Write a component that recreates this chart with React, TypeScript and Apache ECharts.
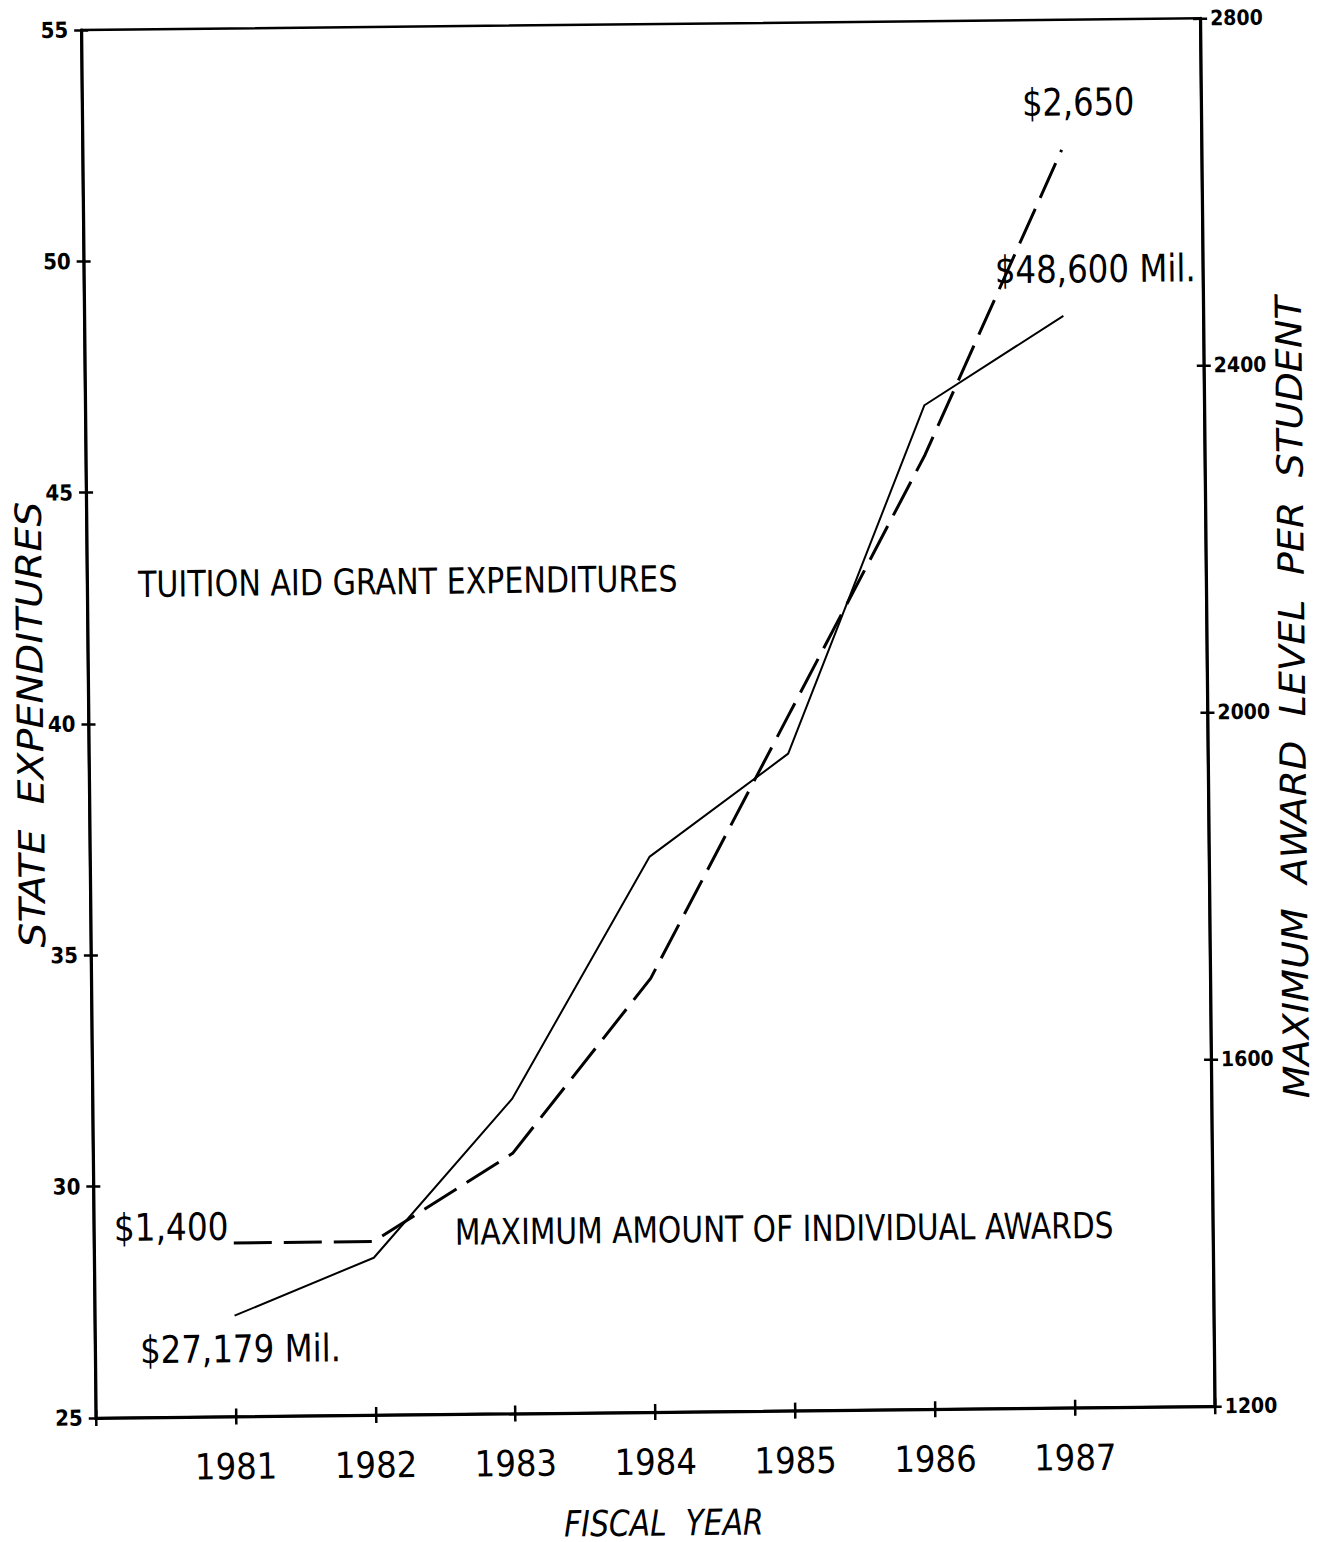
import React, { useEffect, useRef } from "react";
import * as echarts from "echarts";

const years = [1981, 1982, 1983, 1984, 1985, 1986, 1987];
const stateExpenditures = [27.179, 28.4, 31.8, 37.0, 39.2, 46.7, 48.6];
const maxAward = [1400, 1400, 1500, 1700, 2000, 2300, 2650];
const leftTicks = { min: 25, max: 55, interval: 5 };
const rightTicks = { min: 1200, max: 2800, interval: 400 };
const xRange = { min: 1980, max: 1988, interval: 1 };

const FONT = '"Liberation Sans Narrow", "DejaVu Sans Condensed", "Arial Narrow", sans-serif';

export default function App() {
  const ref = useRef<HTMLDivElement>(null);
  useEffect(() => {
    const chart = echarts.init(ref.current!, null, { renderer: "svg" });
    const solid = years.map((y, i) => [y, stateExpenditures[i]]);
    const dashed = years.map((y, i) => [y, maxAward[i]]);
    const xLabel = (v: number) => (v === xRange.min || v === xRange.max ? "" : String(v));
    const baseX = {
      type: "value",
      min: xRange.min,
      max: xRange.max,
      interval: xRange.interval,
      splitLine: { show: false },
    };
    const txt = (text: string, x: number, y: number, size: number, extra: any = {}) => ({
      type: "text",
      x,
      y,
      rotation: extra.rotation || 0,
      scaleX: extra.scaleX || 1,
      style: {
        text,
        fill: "#000",
        font: `${extra.italic ? "italic " : ""}${size}px ${FONT}`,
        align: extra.align || "left",
        verticalAlign: "middle",
      },
    });
    chart.setOption({
      animation: false,
      backgroundColor: "#fff",
      grid: {
        left: 89,
        right: 113,
        top: 24,
        bottom: 130,
        show: true,
        borderColor: "#000",
        borderWidth: 2.5,
      },
      xAxis: [
        {
          ...baseX,
          axisLine: { show: true, lineStyle: { color: "#000", width: 3 } },
          axisTick: { show: true, inside: false, length: 8, lineStyle: { color: "#000", width: 2.5 } },
          axisLabel: {
            show: true,
            margin: 32,
            color: "#000",
            fontSize: 36,
            fontFamily: FONT,
            formatter: xLabel,
          },
        },
        {
          ...baseX,
          position: "bottom",
          axisLine: { show: false },
          axisTick: { show: true, inside: true, length: 8, lineStyle: { color: "#000", width: 2.5 } },
          axisLabel: { show: false },
        },
      ],
      yAxis: [
        {
          type: "value",
          position: "left",
          ...leftTicks,
          splitLine: { show: false },
          axisLine: { show: true, lineStyle: { color: "#000", width: 3 } },
          axisTick: { show: true, inside: false, length: 7, lineStyle: { color: "#000", width: 2.5 } },
          axisLabel: {
            margin: 13,
            color: "#000",
            fontSize: 22,
            fontWeight: "bold",
            fontFamily: FONT,
            formatter: (v: number) => String(v),
          },
        },
        {
          type: "value",
          position: "right",
          ...rightTicks,
          splitLine: { show: false },
          axisLine: { show: true, lineStyle: { color: "#000", width: 3 } },
          axisTick: { show: true, inside: false, length: 7, lineStyle: { color: "#000", width: 2.5 } },
          axisLabel: {
            margin: 10,
            color: "#000",
            fontSize: 21,
            fontWeight: "bold",
            fontFamily: FONT,
            formatter: (v: number) => String(v),
          },
        },
        {
          type: "value",
          position: "left",
          ...leftTicks,
          splitLine: { show: false },
          axisLine: { show: false },
          axisTick: { show: true, inside: true, length: 7, lineStyle: { color: "#000", width: 2.5 } },
          axisLabel: { show: false },
        },
        {
          type: "value",
          position: "right",
          ...rightTicks,
          splitLine: { show: false },
          axisLine: { show: false },
          axisTick: { show: true, inside: true, length: 7, lineStyle: { color: "#000", width: 2.5 } },
          axisLabel: { show: false },
        },
      ],
      series: [
        {
          name: "State expenditures",
          type: "line",
          xAxisIndex: 0,
          yAxisIndex: 0,
          data: solid,
          symbol: "none",
          lineStyle: { color: "#000", width: 2 },
        },
        {
          name: "Maximum award",
          type: "line",
          xAxisIndex: 0,
          yAxisIndex: 1,
          data: dashed,
          symbol: "none",
          lineStyle: { color: "#000", width: 3, type: [38, 12] },
        },
      ],
      graphic: [
        txt("TUITION AID GRANT EXPENDITURES", 140, 579, 36, { scaleX: 0.93 }),
        txt("MAXIMUM AMOUNT OF INDIVIDUAL AWARDS", 450, 1230, 36, { scaleX: 0.916 }),
        txt("$1,400", 109, 1222, 38, { scaleX: 0.96 }),
        txt("$27,179 Mil.", 134, 1345, 38, { scaleX: 0.95 }),
        txt("$2,650", 1029, 107, 38, { scaleX: 0.94 }),
        txt("$48,600 Mil.", 1000, 274, 38, { scaleX: 0.95 }),
        txt("FISCAL  YEAR", 656, 1523, 36, { italic: true, align: "center", scaleX: 0.92 }),
        txt("STATE  EXPENDITURES", 31, 718, 36, {
          italic: true,
          align: "center",
          rotation: Math.PI / 2,
          scaleX: 1.22,
        }),
        txt("MAXIMUM  AWARD  LEVEL  PER  STUDENT", 1293, 704, 36, {
          italic: true,
          align: "center",
          rotation: Math.PI / 2,
          scaleX: 1.18,
        }),
      ],
    });
    return () => chart.dispose();
  }, []);
  return (
    <div
      ref={ref}
      style={{
        position: "absolute",
        left: 0,
        top: 0,
        width: 1321,
        height: 1542,
        background: "#fff",
        transform: "rotate(-0.6deg)",
        transformOrigin: "50% 50%",
      }}
    />
  );
}
